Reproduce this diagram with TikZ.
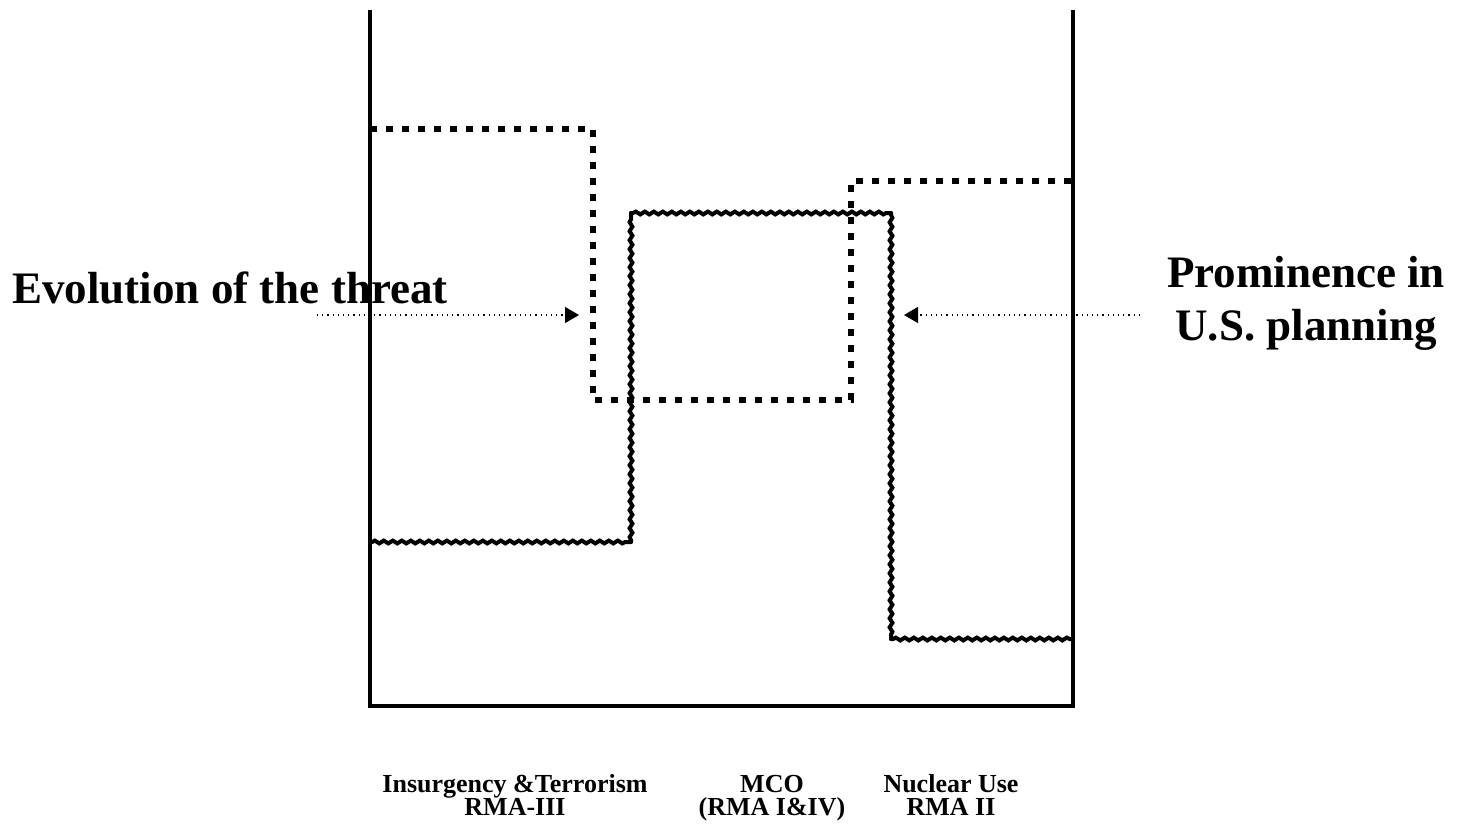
\documentclass[tikz,border=0pt]{standalone}
\usepackage{fontspec}
\setmainfont{Liberation Serif}
\usepackage{tikz}
\usetikzlibrary{
  arrows.meta, positioning,
  decorations.pathmorphing
}

\begin{document}
\begin{tikzpicture}[x=0.5pt, y=-0.5pt,
    axisline/.style={line width=2.4pt},
    threatline/.style={line width=3.4pt, dash pattern=on 3.4pt off 4.6pt},
    planline/.style={line width=2pt, line cap=round, decorate,
      decoration={snake, amplitude=0.7pt, segment length=4.5pt,
        pre length=1pt, post length=1pt}},
    pointer/.style={dotted, line width=0.6pt,
      -{Triangle[length=7pt, width=8pt]}},
    bigtitle/.style={font=\fontsize{22.5}{26.5}\selectfont\bfseries,
      align=center, inner sep=0pt},
    catlabel/.style={font=\fontsize{13}{11.5}\selectfont\bfseries,
      align=center, inner sep=0pt}]
  \useasboundingbox (0,0) rectangle (1457,826);

  % frame
  \coordinate (topleft) at (370,10);
  \coordinate (botleft) at (370,706);
  \coordinate (botright) at (1073,706);
  \coordinate (topright) at (1073,10);
  \draw[axisline] (topleft) -- (botleft) -- (botright) -- (topright);

  % threat curve
  \coordinate (t1) at (370,129);
  \coordinate (t2) at (593,129);
  \coordinate (t3) at (593,400);
  \coordinate (t4) at (851,400);
  \coordinate (t5) at (851,181);
  \coordinate (t6) at (1073,181);
  \draw[threatline] (t1) -- (t2) -- (t3) -- (t4) -- (t5) -- (t6);

  % planning curve, one piece per step
  \coordinate (p1) at (370,542);
  \coordinate (p2) at (631,542);
  \coordinate (p3) at (631,213);
  \coordinate (p4) at (891,213);
  \coordinate (p5) at (891,639);
  \coordinate (p6) at (1073,639);
  \draw[planline] (p1) -- (p2);
  \draw[planline] (p2) -- (p3);
  \draw[planline] (p3) -- (p4);
  \draw[planline] (p4) -- (p5);
  \draw[planline] (p5) -- (p6);

  % titles
  \node[bigtitle, anchor=base west] (threat) at (12,303) {Evolution of the threat};
  \node[bigtitle, anchor=base] (prominence) at (1306,340)
    {Prominence in\\U.S. planning};

  % pointers
  \coordinate (lstart) at (317,315);
  \coordinate (ltip) at (579,315);
  \coordinate (rstart) at (1140,315);
  \coordinate (rtip) at (904,315);
  \draw[pointer] (lstart) -- (ltip);
  \draw[pointer] (rstart) -- (rtip);

  % categories
  \node[catlabel, anchor=base] (insurgency) at (515,815)
    {Insurgency \&Terrorism\\RMA-III};
  \node[catlabel, anchor=base] (mco) at (772,815)
    {MCO\\(RMA I\&IV)};
  \node[catlabel, anchor=base] (nuclear) at (951,815)
    {Nuclear Use\\RMA II};
\end{tikzpicture}
\end{document}
